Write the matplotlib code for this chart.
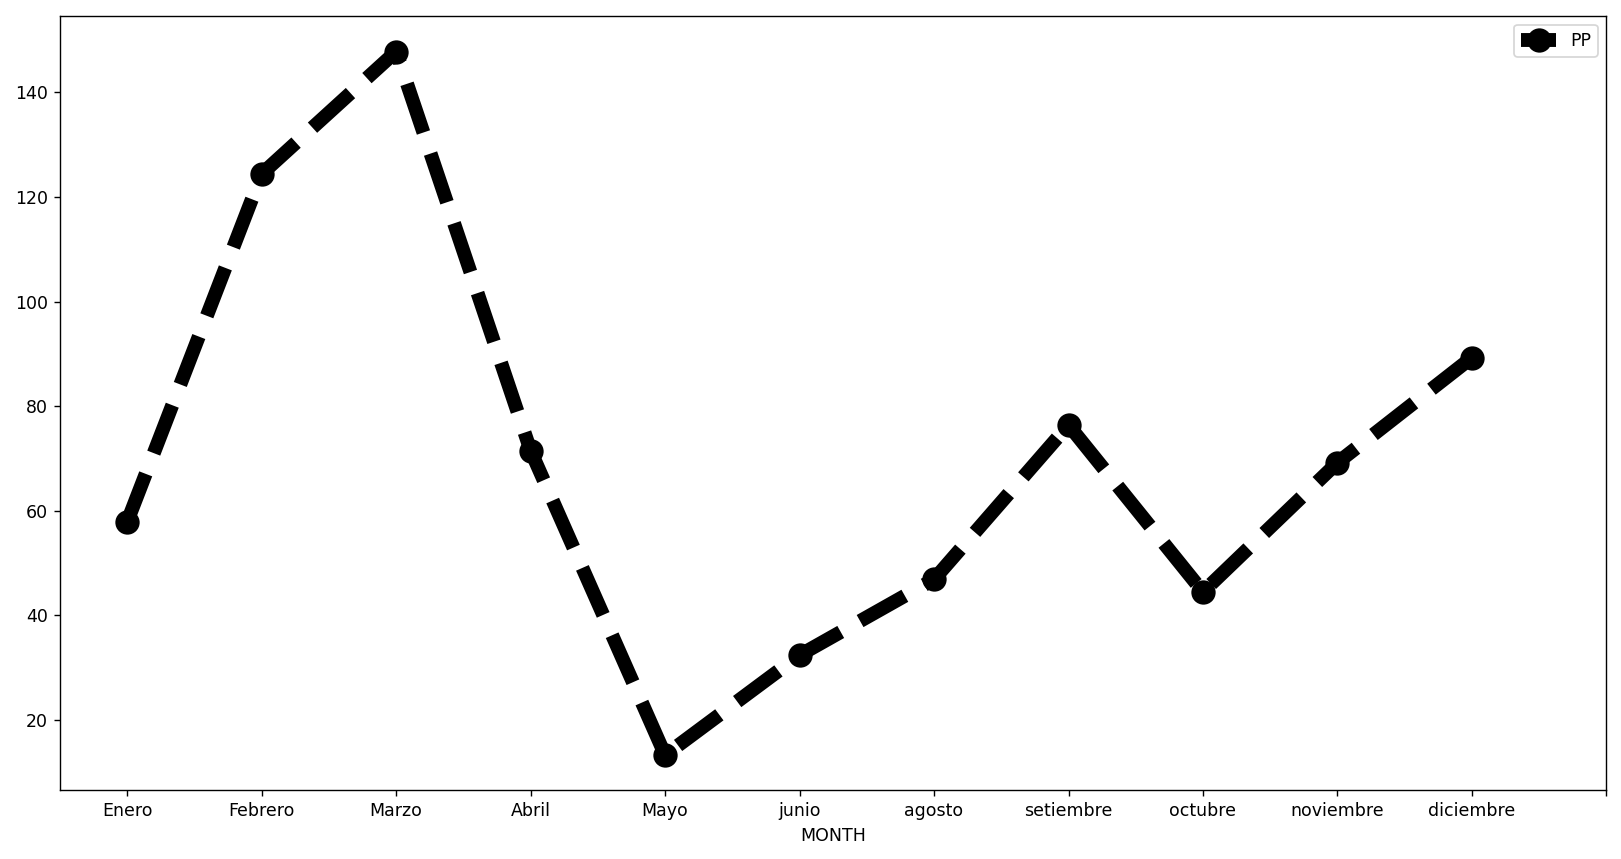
import numpy as np
import matplotlib
matplotlib.use("Agg")
import matplotlib.pyplot as plt

months = ["Enero", "Febrero", "Marzo", "Abril", "Mayo", "junio",
          "agosto", "setiembre", "octubre", "noviembre", "diciembre"]
pp = [57.9, 124.4, 147.8, 71.5, 13.3, 32.4, 46.9, 76.4, 44.5, 69.2, 89.3]


def main():
    dpi = 125
    fig = plt.figure(figsize=(1621 / dpi, 859 / dpi), dpi=dpi)
    ax = fig.add_subplot(111)
    fig.subplots_adjust(left=0.037, right=0.991, top=0.981, bottom=0.080)

    x = np.arange(len(months))
    ax.plot(x, pp, color="black", linestyle="--", marker="o",
            linewidth=8, markersize=13, label="PP")

    ax.set_xticks(np.arange(len(months) + 1))
    ax.set_xticklabels(months + [""])
    ax.set_xlim(-0.5, len(months))
    ax.set_xlabel("MONTH")
    ax.legend(loc="upper right")

    fig.savefig("out.png", dpi=dpi)


if __name__ == "__main__":
    main()
